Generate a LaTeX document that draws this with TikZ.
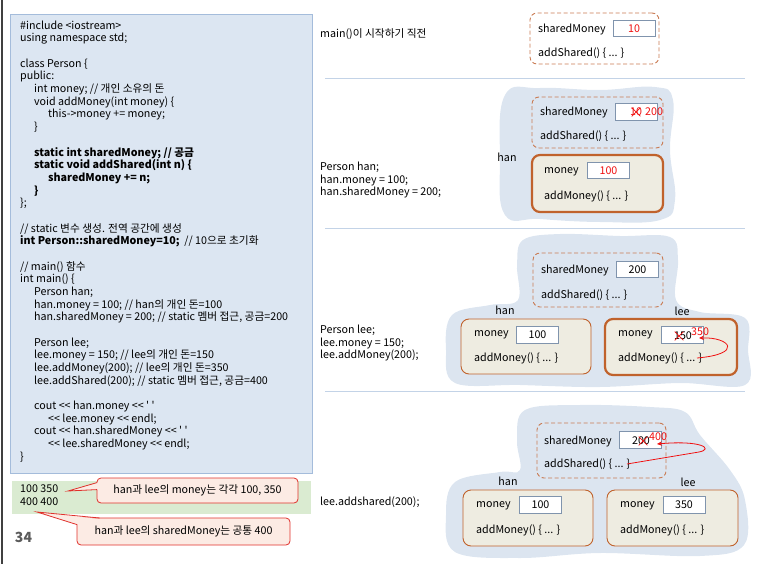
\documentclass[tikz,border=0pt]{standalone}
\usepackage{fontspec}
\newfontfamily\krfont{Noto Sans CJK KR}
\usetikzlibrary{positioning, arrows.meta, shapes.misc, calc}

\definecolor{codefill}{HTML}{DCE6F2}
\definecolor{codeline}{HTML}{A4BCDB}
\definecolor{outfill}{HTML}{DAEBD1}
\definecolor{calloutfill}{HTML}{FCEBE4}
\definecolor{calloutline}{HTML}{E0302B}
\definecolor{sepcolor}{HTML}{C3D3E7}
\definecolor{blobfill}{HTML}{DCE5F0}
\definecolor{dashline}{HTML}{C97A52}
\definecolor{objline}{HTML}{C0622C}
\definecolor{objfill}{HTML}{EEECE1}
\definecolor{valline}{HTML}{8094AD}
\definecolor{valred}{HTML}{F01010}
\definecolor{pagenum}{HTML}{5A5A5A}
\definecolor{pageedge}{HTML}{404040}

\newcommand{\codefont}{\krfont\fontsize{10.7}{12.68}\selectfont}
\newcommand{\ind}{\hspace*{14pt}}

\begin{document}
\begin{tikzpicture}[
    x=1pt, y=-1pt,
    every node/.style={font=\codefont},
    panel/.style={draw=codeline, fill=codefill, line width=0.8pt},
    outpanel/.style={fill=outfill},
    codetext/.style={anchor=north west, align=left, inner sep=0pt},
    callout/.style={draw=calloutline, fill=calloutfill, rounded corners=4pt,
                    line width=0.8pt, inner sep=0pt},
    wedge/.style={draw=calloutline, line width=0.8pt},
    sepline/.style={draw=sepcolor, line width=1.5pt},
    blob/.style={fill=blobfill},
    sharedbox/.style={draw=dashline, dashed, dash pattern=on 4pt off 2.5pt,
                      rounded corners=7pt, line width=0.9pt, inner sep=0pt},
    objbox/.style={draw=objline, fill=objfill, rounded corners=8pt,
                   line width=0.9pt, inner sep=0pt},
    objboxhl/.style={objbox, line width=2.2pt},
    valbox/.style={draw=valline, fill=white, line width=0.8pt,
                   minimum width=42pt, minimum height=16.5pt, inner sep=0pt},
    field/.style={anchor=west, inner sep=0pt},
    objname/.style={inner sep=0pt},
    stepnote/.style={anchor=west, align=left, inner sep=0pt},
    redval/.style={text=valred, inner sep=0pt},
    crossmark/.style={cross out, draw=valred, line width=0.7pt,
                      minimum width=8pt, minimum height=8pt, inner sep=0pt},
    redarrow/.style={draw=valred, line width=0.8pt, -{Stealth[length=5pt, width=4.5pt]}}
]
\useasboundingbox (0,0) rectangle (770,564);

% slide edge
\draw[pageedge, line width=2.5pt] (2,0) -- (2,564);

% code panel
\path[panel] (10,14) rectangle (312,473);
\node[codetext] (code) at (20,20.5) {%
\#include <iostream>\\
using namespace std;\\
\mbox{}\\
class Person \{\\
public:\\
\ind int money; // 개인 소유의 돈\\
\ind void addMoney(int money) \{\\
\ind\ind this->money += money;\\
\ind \}\\
\mbox{}\\
\ind\textbf{static int sharedMoney; // 공금}\\
\ind\textbf{static void addShared(int n) \{}\\
\ind\ind\textbf{sharedMoney += n;}\\
\ind\textbf{\}}\\
\};\\
\mbox{}\\
// static 변수 생성. 전역 공간에 생성\\
\textbf{int Person::sharedMoney=10;}\ \ // 10으로 초기화\\
\mbox{}\\
// main() 함수\\
int main() \{\\
\ind Person han;\\
\ind han.money = 100; // han의 개인 돈=100\\
\ind han.sharedMoney = 200; // static 멤버 접근, 공금=200\\
\mbox{}\\
\ind Person lee;\\
\ind lee.money = 150; // lee의 개인 돈=150\\
\ind lee.addMoney(200); // lee의 개인 돈=350\\
\ind lee.addShared(200); // static 멤버 접근, 공금=400\\
\mbox{}\\
\ind cout << han.money << ' '\\
\ind\ind << lee.money << endl;\\
\ind cout << han.sharedMoney << ' '\\
\ind\ind << lee.sharedMoney << endl;\\
\}};

% program output
\path[outpanel] (12,481) rectangle (311,514);
\node[codetext] (out) at (20,484.5) {100 350\\400 400};
\coordinate (p1) at (68,491);
\coordinate (p2) at (37,512);
\node[callout, minimum width=201pt, minimum height=25pt] (c1) at (197.5,490.5)
     {han과 lee의 money는 각각 100, 350};
\node[callout, minimum width=213pt, minimum height=27pt] (c2) at (183.5,531.5)
     {han과 lee의 sharedMoney는 공통 400};
\fill[calloutfill] (p1) -- ($(c1.north west)+(1.5,5)$) -- ($(c1.north west)+(1.5,12)$) -- cycle;
\draw[wedge] ($(c1.north west)+(0.4,5)$) -- (p1) -- ($(c1.north west)+(0.4,12)$);
\fill[calloutfill] (p2) -- ($(c2.north west)+(1.5,7)$) -- ($(c2.north west)+(23,1.5)$) -- cycle;
\draw[wedge] ($(c2.north west)+(0.4,7)$) -- (p2) -- ($(c2.north west)+(23,0.4)$);
\node[font=\krfont\bfseries\fontsize{14}{16}\selectfont, text=pagenum, inner sep=0pt]
     (pnum) at (23.5,537) {34};

% separators
\draw[sepline] (325,78.5) -- (745,78.5);
\draw[sepline] (325,228.5) -- (745,228.5);
\draw[sepline] (325,391.5) -- (745,391.5);

% step 0: before main()
\node[stepnote] (note0) at (320,34) {main()이 시작하기 직전};
\node[sharedbox, minimum width=129pt, minimum height=51pt] (sh0) at (594.5,38.5) {};
\node[field] (sf0) at (538,29) {sharedMoney};
\node[valbox] (sv0) at (634,28.5) {};
\node[redval] (sv0t) at (sv0) {10};
\node[field] (sa0) at (538,53) {addShared() \{ ... \}};

% step 1: han
\fill[blob] plot[smooth cycle, tension=0.7] coordinates {(505,95) (540,88) (600,90)
  (655,87) (673,100) (670,150) (675,200) (660,220) (600,222) (540,219) (505,215) (500,160)};
\node[stepnote] (note1) at (320,180) {Person han;\\han.money = 100;\\han.sharedMoney = 200;};
\node[sharedbox, minimum width=131pt, minimum height=51pt] (sh1) at (597.5,122.5) {};
\node[field] (sf1) at (540,112) {sharedMoney};
\node[valbox] (sv1) at (636,112) {};
\node[redval] (sv1old) at (636,112) {10};
\node[crossmark] at (sv1old) {};
\node[redval, anchor=west] (sv1new) at (645,112) {200};
\node[field] (sa1) at (540,136) {addShared() \{ ... \}};
\node[objname] (hn1) at (507,157) {han};
\node[objboxhl, minimum width=131pt, minimum height=57pt] (han1) at (597.5,183.5) {};
\node[field] (hf1) at (544,172) {money};
\node[valbox] (hv1) at (608.5,170.5) {};
\node[redval] at (hv1) {100};
\node[field] (ha1) at (544,196) {addMoney() \{ ... \}};

% step 2: lee
\fill[blob] plot[smooth cycle, tension=0.6] coordinates {(523,240) (560,234) (620,236)
  (670,237) (678,260) (676,300) (700,312) (745,318) (748,350) (745,385) (680,383)
  (600,387) (520,385) (455,383) (446,350) (452,315) (490,305) (518,300) (517,265)};
\node[stepnote] (note2) at (320,343) {Person lee;\\lee.money = 150;\\lee.addMoney(200);};
\node[sharedbox, minimum width=130pt, minimum height=54pt] (sh2) at (598,280) {};
\node[field] (sf2) at (541,270) {sharedMoney};
\node[valbox] (sv2) at (637.5,269.5) {};
\node at (sv2) {200};
\node[field] (sa2) at (541,295) {addShared() \{ ... \}};
\node[objname] (hn2) at (505,310) {han};
\node[objname] (ln2) at (682,311) {lee};
\node[objbox, minimum width=130pt, minimum height=55pt] (han2) at (526,346.5) {};
\node[field] (hf2) at (474,335) {money};
\node[valbox] (hv2) at (537.5,335) {};
\node at (hv2) {100};
\node[field] (ha2) at (474,358) {addMoney() \{ ... \}};
\node[objboxhl, minimum width=132pt, minimum height=56pt] (lee2) at (671,347) {};
\node[field] (lf2) at (618,335) {money};
\node[valbox] (lv2) at (682,335) {};
\node[inner sep=0pt] (lv2old) at (683,336) {150};
\node[crossmark] at ($(lv2old)+(-4,0)$) {};
\node[redval, anchor=west] (lv2new) at (691,332) {350};
\node[field] (la2) at (618,358) {addMoney() \{ ... \}};
\coordinate (a2s) at (697,358);
\coordinate (a2t) at (699,338);
\draw[redarrow] (a2s) .. controls (744,354) and (730,337) .. (a2t);

% step 3: lee.addShared
\fill[blob] plot[smooth cycle, tension=0.6] coordinates {(525,410) (580,405) (650,407)
  (685,412) (700,435) (730,470) (745,500) (744,545) (700,556) (600,553) (520,558)
  (455,552) (446,515) (455,482) (500,472) (520,470) (517,440)};
\node[stepnote] (note3) at (320,502) {lee.addshared(200);};
\node[sharedbox, minimum width=129pt, minimum height=55pt] (sh3) at (601.5,450.5) {};
\node[field] (sf3) at (544,441) {sharedMoney};
\node[valbox] (sv3) at (640.5,440) {};
\node[inner sep=0pt] (sv3old) at (641,441) {200};
\node[crossmark] at ($(sv3old)+(2,0)$) {};
\node[redval, anchor=west] (sv3new) at (649,437) {400};
\node[field] (sa3) at (544,464) {addShared() \{ ... \}};
\coordinate (a3s) at (627,464);
\coordinate (a3m) at (699,452);
\coordinate (a3t) at (657,444);
\draw[redarrow] (a3s) -- (a3m) .. controls (714,449) and (702,440) .. (a3t);
\node[objname] (hn3) at (508,481) {han};
\node[objname] (ln3) at (688,482) {lee};
\node[objbox, minimum width=130pt, minimum height=56pt] (han3) at (528,518) {};
\node[field] (hf3) at (476,506) {money};
\node[valbox] (hv3) at (540.5,505) {};
\node at (hv3) {100};
\node[field] (ha3) at (476,530) {addMoney() \{ ... \}};
\node[objbox, minimum width=131pt, minimum height=56pt] (lee3) at (672.5,518) {};
\node[field] (lf3) at (620,506) {money};
\node[valbox] (lv3) at (684,505) {};
\node at (lv3) {350};
\node[field] (la3) at (620,530) {addMoney() \{ ... \}};
\end{tikzpicture}
\end{document}
